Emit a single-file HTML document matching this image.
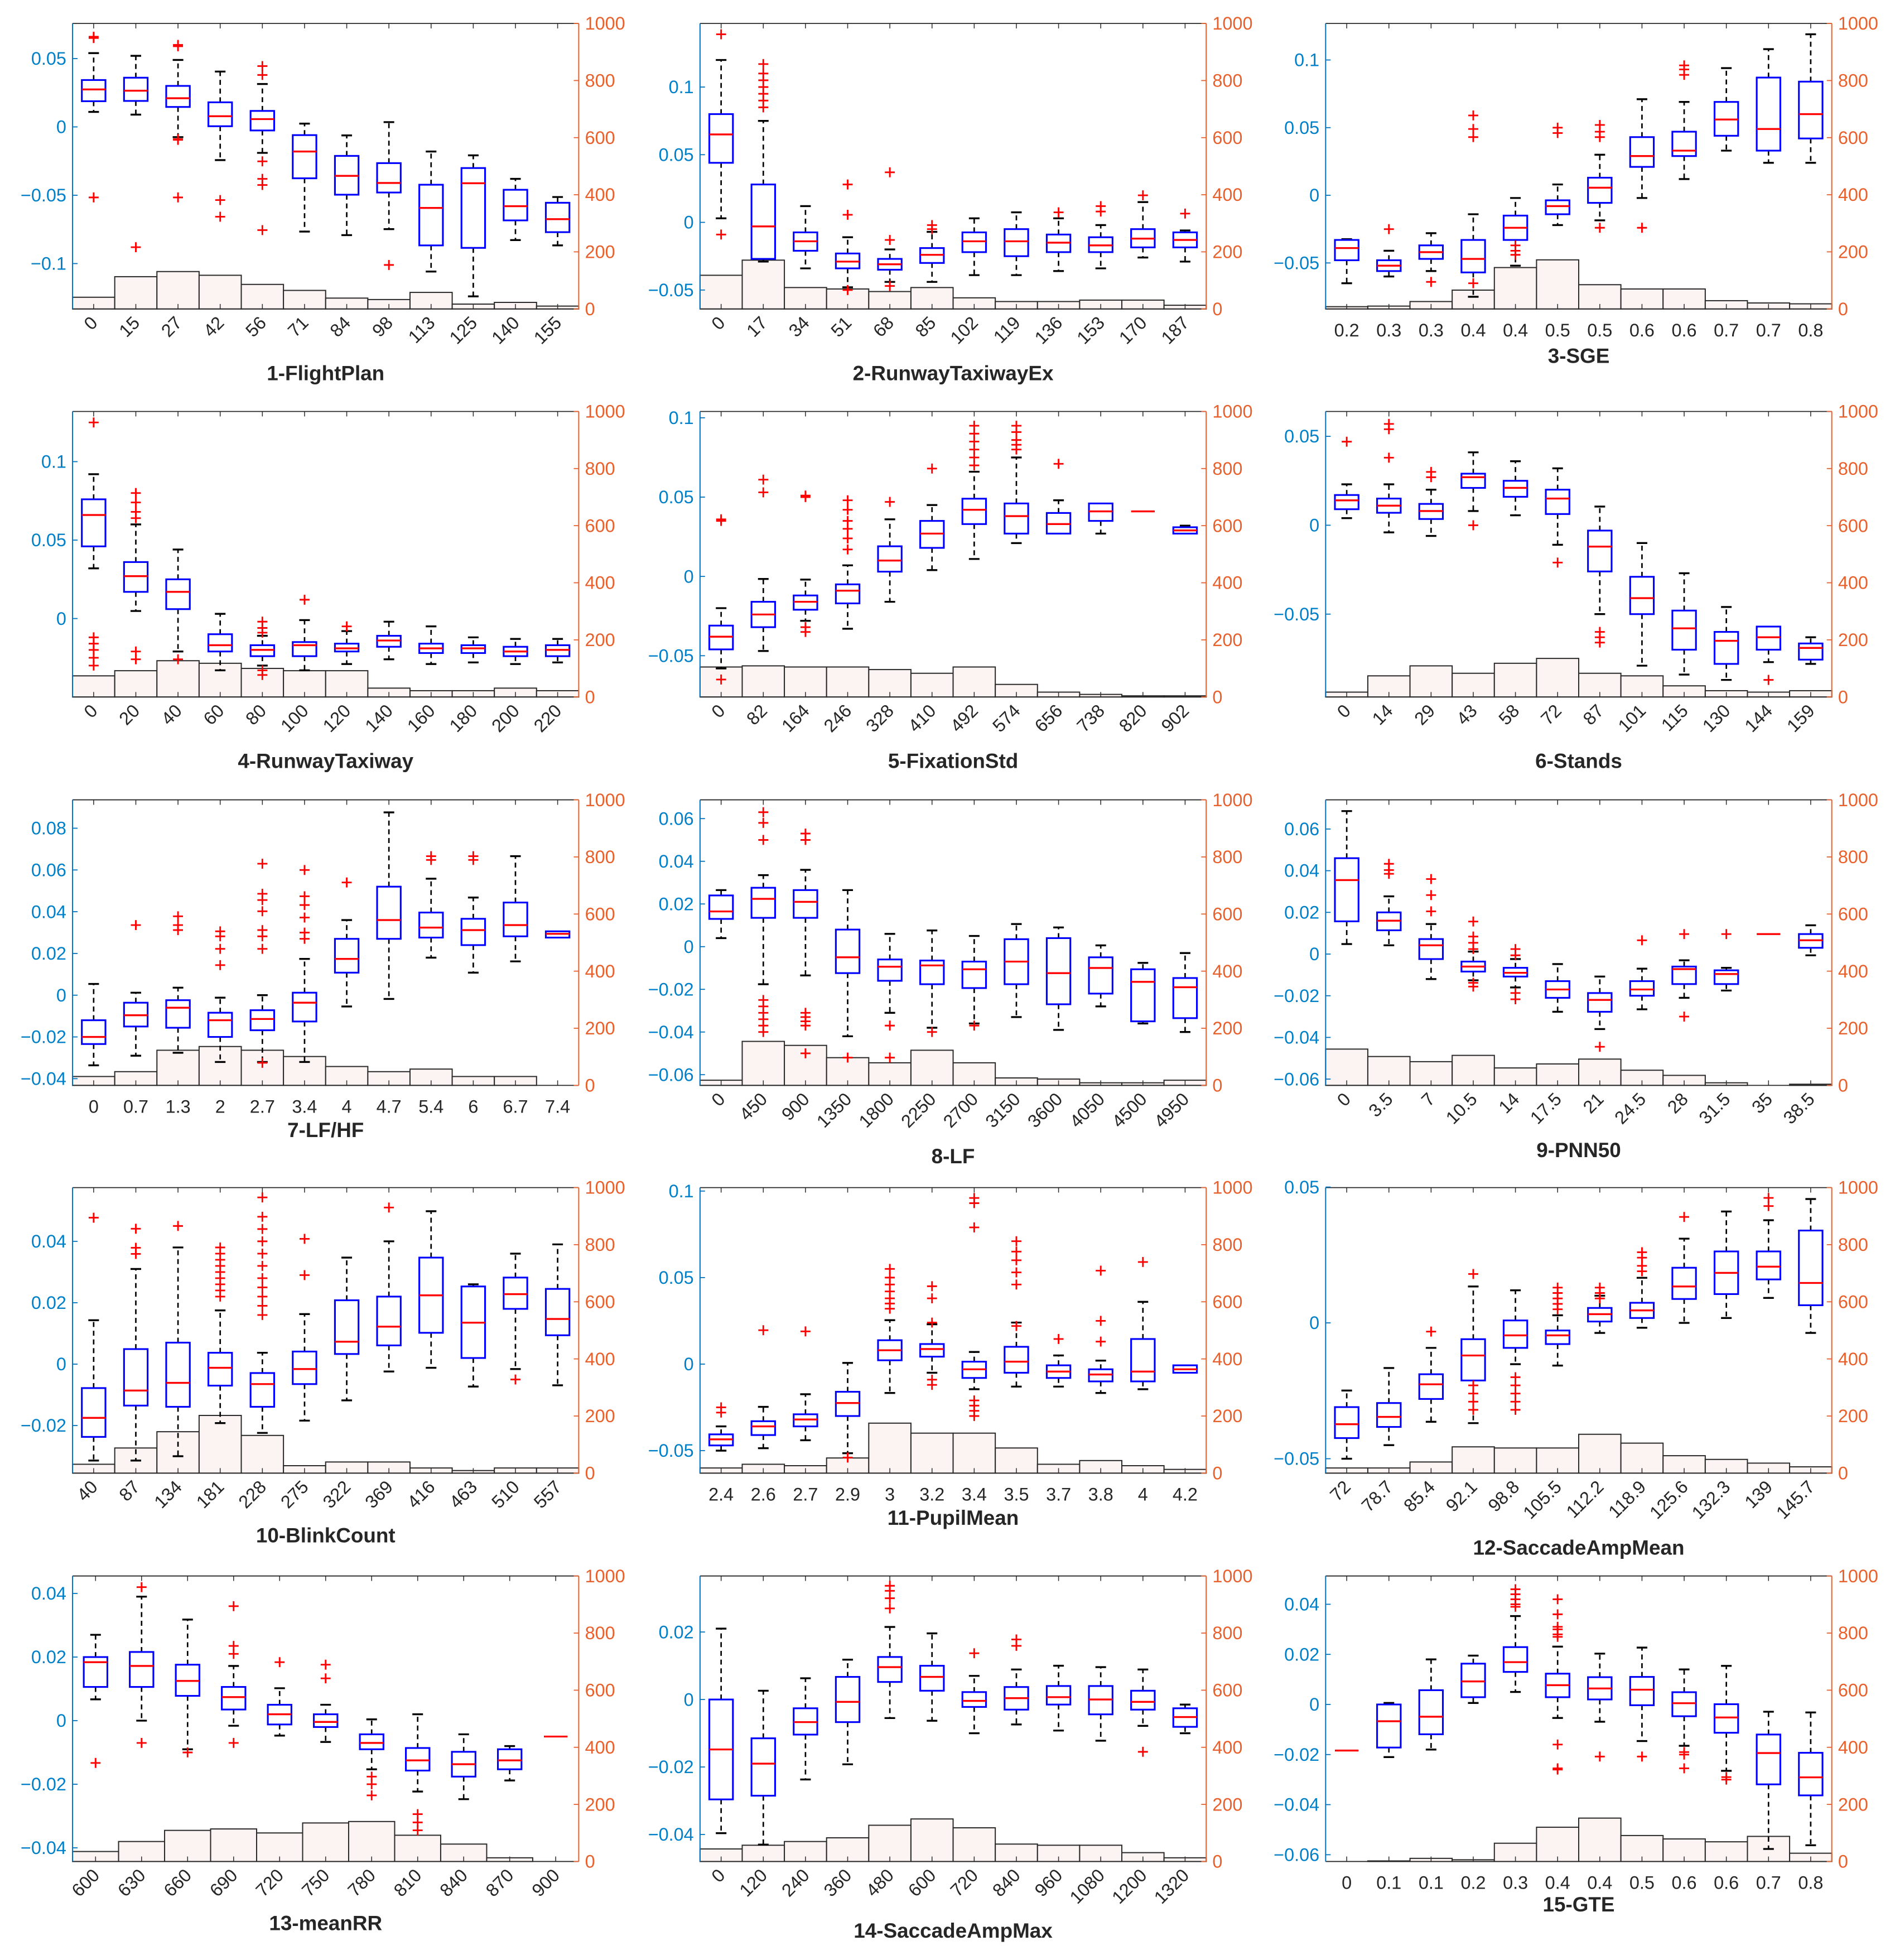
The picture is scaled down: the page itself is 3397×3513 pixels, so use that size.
<!DOCTYPE html>
<html><head><meta charset="utf-8"><title>Boxplots with histograms</title>
<style>
html,body{margin:0;padding:0;background:#fff;}
svg{display:block;font-family:"Liberation Sans",Arial,sans-serif;}
</style></head>
<body>
<svg id="fig" xmlns="http://www.w3.org/2000/svg" width="3397" height="3513" viewBox="0 0 1520 1572" preserveAspectRatio="none"></svg>
<script>
const TITLES=["1-FlightPlan","2-RunwayTaxiwayEx","3-SGE","4-RunwayTaxiway","5-FixationStd","6-Stands","7-LF/HF","8-LF","9-PNN50","10-BlinkCount","11-PupilMean","12-SaccadeAmpMean","13-meanRR","14-SaccadeAmpMax","15-GTE"];
const XLABELS=[
["0","15","27","42","56","71","84","98","113","125","140","155"],
["0","17","34","51","68","85","102","119","136","153","170","187"],
["0.2","0.3","0.3","0.4","0.4","0.5","0.5","0.6","0.6","0.7","0.7","0.8"],
["0","20","40","60","80","100","120","140","160","180","200","220"],
["0","82","164","246","328","410","492","574","656","738","820","902"],
["0","14","29","43","58","72","87","101","115","130","144","159"],
["0","0.7","1.3","2","2.7","3.4","4","4.7","5.4","6","6.7","7.4"],
["0","450","900","1350","1800","2250","2700","3150","3600","4050","4500","4950"],
["0","3.5","7","10.5","14","17.5","21","24.5","28","31.5","35","38.5"],
["40","87","134","181","228","275","322","369","416","463","510","557"],
["2.4","2.6","2.7","2.9","3","3.2","3.4","3.5","3.7","3.8","4","4.2"],
["72","78.7","85.4","92.1","98.8","105.5","112.2","118.9","125.6","132.3","139","145.7"],
["600","630","660","690","720","750","780","810","840","870","900"],
["0","120","240","360","480","600","720","840","960","1080","1200","1320"],
["0","0.1","0.1","0.2","0.3","0.4","0.4","0.5","0.6","0.6","0.7","0.8"]];
const ROTATED=[1,1,0,1,1,1,0,1,1,1,0,1,1,1,0];
const YLIM=[[-0.1332,0.0757],[-0.064,0.147],[-0.084,0.127],[-0.050,0.132],[-0.076,0.104],[-0.0966,0.064],[-0.0432,0.0936],[-0.065,0.0688],[-0.063,0.074],[-0.0355,0.0575],[-0.063,0.102],[-0.0553,0.0498],[-0.0443,0.0455],[-0.048,0.0366],[-0.0627,0.0513]];
const YTICKS=[[0.05,0,-0.05,-0.1],[0.1,0.05,0,-0.05],[0.1,0.05,0,-0.05],[0.1,0.05,0],[0.1,0.05,0,-0.05],[0.05,0,-0.05],[0.08,0.06,0.04,0.02,0,-0.02,-0.04],[0.06,0.04,0.02,0,-0.02,-0.04,-0.06],[0.06,0.04,0.02,0,-0.02,-0.04,-0.06],[0.04,0.02,0,-0.02],[0.1,0.05,0,-0.05],[0.05,0,-0.05],[0.04,0.02,0,-0.02,-0.04],[0.02,0,-0.02,-0.04],[0.04,0.02,0,-0.02,-0.04,-0.06]];
const RTICKS=[0,200,400,600,800,1000];
const LO=[
[0.011,0.009,-0.0075,-0.0243,-0.019,-0.0766,-0.0792,-0.0748,-0.1058,-0.124,-0.0828,-0.0867],
[0.003,-0.029,-0.034,-0.048,-0.044,-0.044,-0.039,-0.039,-0.036,-0.034,-0.026,-0.029],
[-0.065,-0.060,-0.056,-0.075,-0.052,-0.022,-0.0185,-0.002,0.012,0.033,0.024,0.024],
[0.032,0.0048,-0.021,-0.033,-0.030,-0.033,-0.029,-0.026,-0.029,-0.028,-0.029,-0.028],
[-0.058,-0.047,-0.028,-0.033,-0.016,0.004,0.011,0.021,0.027,0.027,0.041,0.027],
[0.004,-0.004,-0.006,0.008,0.0056,-0.011,-0.050,-0.079,-0.084,-0.087,-0.077,-0.078],
[-0.0336,-0.029,-0.0276,-0.032,-0.032,-0.032,-0.0054,-0.0018,0.018,0.0108,0.0162,0.0276],
[0.004,-0.0176,-0.0135,-0.042,-0.031,-0.038,-0.036,-0.033,-0.039,-0.028,-0.036,-0.040],
[0.0048,0.0042,-0.012,-0.0126,-0.016,-0.0277,-0.036,-0.0265,-0.021,-0.0175,0.0096,-0.0006],
[-0.0314,-0.0314,-0.030,-0.0192,-0.0224,-0.0184,-0.0118,-0.0024,-0.0012,-0.0073,-0.0016,-0.0069],
[-0.050,-0.0486,-0.044,-0.0515,-0.0167,-0.005,-0.0145,-0.013,-0.013,-0.0167,-0.0145,-0.005],
[-0.050,-0.045,-0.0364,-0.0369,-0.0152,-0.0157,-0.0037,-0.0018,0,0.0018,0.0092,-0.0037],
[0.0067,0,-0.009,-0.0016,-0.0047,-0.0067,-0.0153,-0.0223,-0.0247,-0.0188,-0.005],
[-0.0396,-0.043,-0.0237,-0.0192,-0.0055,-0.0063,-0.010,-0.0074,-0.0092,-0.0122,-0.0078,-0.010],
[-0.0184,-0.021,-0.018,0.0006,0.005,-0.0054,-0.0069,-0.0146,-0.0165,-0.0265,-0.0577,-0.0562]];
const Q1=[
[0.0188,0.019,0.0146,0.0005,-0.0026,-0.0376,-0.0496,-0.048,-0.0867,-0.0885,-0.0684,-0.077],
[0.044,-0.027,-0.021,-0.034,-0.035,-0.030,-0.022,-0.025,-0.022,-0.022,-0.0185,-0.0185],
[-0.048,-0.056,-0.047,-0.057,-0.033,-0.014,-0.0056,0.021,0.029,0.044,0.033,0.042],
[0.046,0.017,0.006,-0.021,-0.024,-0.024,-0.021,-0.018,-0.022,-0.022,-0.024,-0.024],
[-0.046,-0.032,-0.021,-0.017,0.003,0.018,0.033,0.027,0.027,0.035,0.041,0.027],
[0.009,0.007,0.0035,0.021,0.016,0.0063,-0.026,-0.050,-0.070,-0.078,-0.070,-0.0756],
[-0.0234,-0.015,-0.0156,-0.020,-0.0168,-0.0126,0.0108,0.027,0.0276,0.024,0.0282,0.0276],
[0.013,0.0135,0.0135,-0.0124,-0.016,-0.0176,-0.0194,-0.0176,-0.027,-0.022,-0.035,-0.0335],
[0.0157,0.0114,-0.0024,-0.0084,-0.0108,-0.021,-0.0277,-0.020,-0.0144,-0.0144,0.0096,0.003],
[-0.0237,-0.0135,-0.0139,-0.007,-0.0139,-0.0065,0.0033,0.0061,0.0102,0.002,0.018,0.0094],
[-0.047,-0.041,-0.036,-0.030,0.0022,0.0043,-0.008,-0.005,-0.008,-0.010,-0.010,-0.005],
[-0.0424,-0.0383,-0.028,-0.0212,-0.0092,-0.0078,0.0005,0.0018,0.0088,0.0106,0.016,0.0065],
[0.0106,0.0106,0.0078,0.0035,-0.0012,-0.002,-0.009,-0.0157,-0.0176,-0.0153,-0.005],
[-0.0296,-0.0285,-0.0104,-0.0067,0.0052,0.0026,-0.0022,-0.003,-0.0015,-0.0044,-0.003,-0.0081],
[-0.0184,-0.0172,-0.0119,0.0029,0.013,0.0029,0.002,-0.0003,-0.0047,-0.0113,-0.0319,-0.0363]];
const MED=[
[0.0274,0.0265,0.021,0.0078,0.0057,-0.018,-0.0358,-0.041,-0.0593,-0.0412,-0.058,-0.0675],
[0.065,-0.003,-0.014,-0.029,-0.031,-0.024,-0.014,-0.014,-0.015,-0.017,-0.012,-0.013],
[-0.039,-0.052,-0.042,-0.047,-0.024,-0.008,0.0056,0.029,0.033,0.056,0.049,0.060],
[0.066,0.027,0.017,-0.017,-0.020,-0.017,-0.019,-0.014,-0.019,-0.019,-0.021,-0.020],
[-0.038,-0.024,-0.016,-0.009,0.010,0.027,0.042,0.038,0.033,0.041,0.041,0.029],
[0.014,0.011,0.008,0.027,0.021,0.015,-0.012,-0.041,-0.058,-0.065,-0.063,-0.069],
[-0.020,-0.0096,-0.006,-0.012,-0.0114,-0.0036,0.0174,0.036,0.0324,0.0312,0.0336,0.0294],
[0.0165,0.0224,0.021,-0.005,-0.0094,-0.0088,-0.0106,-0.007,-0.0124,-0.010,-0.0165,-0.019],
[0.0355,0.016,0.0042,-0.006,-0.009,-0.017,-0.022,-0.017,-0.0072,-0.0096,0.0096,0.0066],
[-0.0175,-0.0086,-0.0061,-0.0012,-0.0065,-0.0016,0.0073,0.0122,0.0224,0.0135,0.0228,0.0147],
[-0.0435,-0.036,-0.032,-0.0225,0.008,0.0087,-0.003,0.0014,-0.0043,-0.006,-0.0043,-0.003],
[-0.0373,-0.0346,-0.0226,-0.012,-0.0046,-0.0046,0.0032,0.0046,0.0134,0.0184,0.0207,0.0147],
[0.0184,0.0172,0.0125,0.0074,0.002,-0.0004,-0.007,-0.0125,-0.0137,-0.0125,-0.005],
[-0.0148,-0.019,-0.0067,-0.0007,0.0096,0.0067,-0.0004,0.0004,0.0007,0,-0.0007,-0.0052],
[-0.0184,-0.0067,-0.0049,0.0092,0.0169,0.0077,0.0064,0.0059,0.0005,-0.0052,-0.0194,-0.0291]];
const Q3=[
[0.0343,0.036,0.030,0.018,0.0117,-0.006,-0.0212,-0.0265,-0.0423,-0.0301,-0.046,-0.0555],
[0.080,0.028,-0.0074,-0.023,-0.027,-0.019,-0.0074,-0.005,-0.009,-0.011,-0.005,-0.0074],
[-0.033,-0.048,-0.037,-0.033,-0.015,-0.0037,0.013,0.043,0.047,0.069,0.087,0.084],
[0.076,0.036,0.025,-0.010,-0.017,-0.015,-0.016,-0.011,-0.016,-0.017,-0.018,-0.017],
[-0.031,-0.016,-0.012,-0.005,0.019,0.035,0.049,0.046,0.040,0.046,0.041,0.031],
[0.017,0.015,0.012,0.029,0.025,0.020,-0.003,-0.029,-0.048,-0.060,-0.057,-0.0665],
[-0.012,-0.0036,-0.0024,-0.0084,-0.0072,0.0012,0.027,0.052,0.0396,0.0366,0.0444,0.0306],
[0.024,0.0276,0.0265,0.008,-0.006,-0.0065,-0.007,0.0035,0.004,-0.005,-0.0106,-0.0147],
[0.046,0.020,0.0072,-0.0036,-0.0066,-0.013,-0.0187,-0.013,-0.006,-0.0078,0.0096,0.0096],
[-0.0078,0.0049,0.007,0.0037,-0.0029,0.0041,0.0208,0.022,0.0347,0.0253,0.0282,0.0245],
[-0.0406,-0.033,-0.029,-0.016,0.0138,0.0116,0.0014,0.010,-0.0007,-0.003,0.0145,-0.0007],
[-0.031,-0.0295,-0.0189,-0.006,0.0009,-0.0028,0.0055,0.0074,0.0203,0.0263,0.0263,0.034],
[0.020,0.0216,0.0176,0.0106,0.005,0.002,-0.0043,-0.0086,-0.0098,-0.009,-0.005],
[0,-0.0115,-0.0026,0.0067,0.0126,0.010,0.0022,0.0037,0.004,0.004,0.0026,-0.0026],
[-0.0184,0,0.0057,0.0163,0.0229,0.0123,0.0109,0.011,0.0049,0.0001,-0.012,-0.0193]];
const HI=[
[0.054,0.052,0.049,0.0405,0.0314,0.0024,-0.0062,0.0035,-0.018,-0.0208,-0.038,-0.0513],
[0.120,0.075,0.012,-0.011,-0.02,-0.007,0.003,0.0074,0.003,-0.002,0.015,-0.006],
[-0.0324,-0.041,-0.028,-0.014,-0.002,0.008,0.030,0.071,0.069,0.094,0.108,0.119],
[0.092,0.060,0.044,0.003,-0.011,-0.001,-0.008,-0.002,-0.005,-0.012,-0.013,-0.013],
[-0.020,-0.0016,-0.002,0.007,0.036,0.045,0.066,0.075,0.048,0.046,0.041,0.032],
[0.023,0.023,0.020,0.041,0.036,0.032,0.0105,-0.010,-0.027,-0.046,-0.057,-0.063],
[0.0054,0.0012,0.0036,-0.0012,0,0.0174,0.036,0.0876,0.0558,0.0468,0.0666,0.0306],
[0.0265,0.0335,0.036,0.0265,0.006,0.0076,0.005,0.0106,0.009,0.0006,-0.0076,-0.003],
[0.0686,0.0277,0.0144,0.0012,-0.0024,-0.0048,-0.0108,-0.007,-0.003,-0.0066,0.0096,0.0138],
[0.0143,0.031,0.038,0.0175,0.0037,0.0163,0.0347,0.040,0.0498,0.026,0.036,0.039],
[-0.036,-0.0247,-0.0174,0.0007,0.0254,0.023,0.007,0.024,0.005,0.002,0.036,-0.0007],
[-0.0249,-0.0166,-0.0092,0.0134,0.012,0.0028,0.010,0.0166,0.031,0.041,0.0378,0.0456],
[0.027,0.039,0.0318,0.0172,0.0102,0.005,0.0004,0.002,-0.0043,-0.008,-0.005],
[0.021,0.0026,0.0063,0.0118,0.0215,0.0196,0.007,0.0089,0.010,0.0096,0.0089,-0.0015],
[-0.0184,0.0006,0.018,0.0195,0.0353,0.0231,0.0203,0.0227,0.014,0.0154,-0.0029,-0.0032]];
const OUT=[
[[0.066,0.065,-0.0516],[-0.088],[0.060,0.059,-0.009,-0.0095,-0.0516],[-0.0535,-0.0657],[0.0445,0.038,-0.0252,-0.038,-0.0425,-0.0755],[],[],[-0.101],[],[],[],[]],
[[0.139,-0.009],[0.117,0.11,0.105,0.10,0.095,0.09,0.085],[],[0.028,0.0056,-0.05],[0.037,-0.013,-0.047],[-0.002,-0.005],[],[],[0.0074],[0.012,0.008],[0.020],[0.0065]],
[[],[-0.025],[-0.064],[0.049,0.059,0.043,-0.065],[-0.037,-0.041,-0.044],[0.05,0.046],[0.052,0.047,0.043,-0.024],[-0.024],[0.096,0.093,0.089],[],[],[]],
[[0.125,-0.012,-0.016,-0.02,-0.025,-0.03],[0.080,0.074,0.068,0.064,-0.021,-0.026],[-0.026],[],[-0.002,-0.006,-0.009,-0.033,-0.036],[0.012],[-0.005],[],[],[],[],[]],
[[0.036,0.035,-0.065],[0.061,0.053],[0.051,0.050,-0.032,-0.035],[0.048,0.042,0.035,0.030,0.024,0.017],[0.047],[0.068],[0.095,0.09,0.085,0.08,0.075,0.07],[0.095,0.091,0.086,0.083,0.080],[0.071],[],[],[]],
[[0.047],[0.057,0.054,0.038],[0.030,0.027],[0],[],[-0.021],[-0.060,-0.063,-0.066],[],[],[],[-0.087],[]],
[[],[0.0336],[0.0378,0.0336,0.0312],[0.0306,0.0282,0.0222,0.0144],[0.063,0.0486,0.0456,0.0402,0.0312,0.0282,0.0222,-0.0324],[0.060,0.0474,0.0432,0.0372,0.030,0.027],[0.054],[],[0.0666,0.0648],[0.0666,0.0648],[],[]],
[[],[0.063,0.058,0.050,-0.025,-0.028,-0.031,-0.034,-0.037,-0.040],[0.053,0.05,-0.031,-0.033,-0.035,-0.037,-0.05],[-0.052],[-0.037,-0.052],[-0.040],[-0.037],[],[],[],[],[]],
[[],[0.0433,0.0403,0.0385],[0.036,0.0283,0.0205],[0.0156,0.0084,0.0054,0.0024,-0.0138,-0.0156],[0.0024,-0.0006,-0.0187,-0.0217],[],[-0.0445],[0.0066],[0.0096,-0.030],[0.0096],[],[]],
[[0.0477],[0.0441,0.0379,0.0359],[0.045],[0.038,0.036,0.034,0.032,0.030,0.028,0.026,0.024,0.022],[0.0543,0.048,0.044,0.040,0.036,0.032,0.028,0.025,0.022,0.019,0.016],[0.0408,0.029],[],[0.051],[],[],[-0.005],[]],
[[-0.025,-0.028],[0.0196],[0.0189],[-0.054],[0.055,0.050,0.046,0.042,0.038,0.035,0.032],[0.045,0.038,0.024,-0.009,-0.012],[0.096,0.093,0.079,-0.021,-0.024,-0.027,-0.030],[0.071,0.065,0.060,0.053,0.046,0.022],[0.0145],[0.054,0.025,0.013],[0.059],[]],
[[],[],[-0.0032],[0.018,-0.023,-0.026,-0.029,-0.032],[-0.020,-0.023,-0.026,-0.029,-0.032],[0.013,0.011,0.009,0.007,0.005],[0.013,0.011,0.009],[0.026,0.024,0.021,0.019],[0.039],[],[0.046,0.043],[]],
[[-0.0133],[0.042,-0.007],[-0.010],[0.036,0.0235,0.021,-0.007],[0.0184],[0.0176,0.0133],[-0.0176,-0.020,-0.0235],[-0.0294,-0.032,-0.0345],[],[],[]],
[[],[],[],[],[0.0337,0.0322,0.030,0.027],[],[0.0137],[0.0178,0.0159],[],[],[-0.0155],[]],
[[],[],[],[],[0.046,0.044,0.042,0.040,0.039],[0.042,0.036,0.031,0.030,0.028,0.027,-0.016,-0.0255,-0.026],[-0.0208],[-0.0208],[-0.019,-0.020,-0.0255],[-0.029,-0.030],[],[]]];
const HIST=[
[41,113,131,118,86,65,38,33,58,17,23,10],
[118,171,75,70,61,75,39,26,26,31,31,13],
[8,10,26,66,145,172,85,70,70,29,21,18],
[74,92,127,118,100,92,92,31,22,22,31,22],
[105,109,105,105,96,83,105,44,17,9,4,4],
[17,74,109,83,118,135,83,74,39,22,17,22],
[31,48,123,136,123,101,66,48,57,31,31,0],
[18,154,140,97,79,123,79,26,22,9,9,18],
[127,101,83,105,61,75,92,53,35,9,0,4],
[31,88,145,202,132,26,39,39,18,9,18,18],
[18,31,26,53,175,140,140,88,31,44,26,13],
[18,18,39,92,88,88,136,105,61,48,35,22],
[35,70,109,114,100,135,140,92,61,13,0],
[44,57,70,83,127,149,118,61,57,57,31,13],
[0,2,11,6,64,120,152,91,79,69,88,29]];

// layout (not data)
const COLX=[58.2,561.5,1063.3], W=406, ROWY=[18.8,330,641.5,952.5,1264], H=229;
const TITLE_Y=[305,305,291,616,616,616,912,933,928,1237,1223,1247,1548,1554,1533];
const NS="http://www.w3.org/2000/svg";
const svg=document.getElementById('fig');
function el(tag,attrs,parent){const e=document.createElementNS(NS,tag);for(const k in attrs)e.setAttribute(k,attrs[k]);parent.appendChild(e);return e;}
const BLUE="#0072BD", ORANGE="#E8602C";
const bg=el('rect',{x:0,y:0,width:1520,height:1572,fill:'#fff'},svg);



for(let p=0;p<15;p++){
  const col=p%3,row=Math.floor(p/3);
  const x0=COLX[col],y0=ROWY[row],x1=x0+W,y1=y0+H;
  const n=XLABELS[p].length, sp=W/n;
  const yl=YLIM[p];
  const yS=v=>y1-(v-yl[0])/(yl[1]-yl[0])*H;
  const hS=c=>y1-c/1000*H;
  const xC=i=>x0+(i+0.5)*sp;
  const g=el('g',{},svg);
  
  
  const hg=el('g',{},g);
  
  
  HIST[p].forEach((c,i)=>{
    if(c<=0)return;
    const r=el('rect',{x:x0+i*sp,y:hS(c),width:sp,height:y1-hS(c),fill:'#FCF4F2',stroke:'#2a2a2a','stroke-width':0.9},hg);
    
    
  });
  for(let i=0;i<n;i++){
    el('line',{x1:xC(i),x2:xC(i),y1:y1,y2:y1-4,stroke:'#333','stroke-width':0.7},g);
    el('line',{x1:xC(i),x2:xC(i),y1:y0,y2:y0+4,stroke:'#333','stroke-width':0.7},g);
  }
  const bw=33.8*0.56, cw=bw*0.45;
  for(let i=0;i<n;i++){
    if(MED[p][i]===null||MED[p][i]===undefined)continue;
    const bx=el('g',{},g);
    
    
    const cx=xC(i), lo=LO[p][i], q1=Q1[p][i], md=MED[p][i], q3=Q3[p][i], hi=HI[p][i];
    if(hi>q3){
      el('line',{x1:cx,x2:cx,y1:yS(q3),y2:yS(hi),stroke:'#000','stroke-width':1.2,'stroke-dasharray':'4,3'},bx);
      el('line',{x1:cx-cw/2,x2:cx+cw/2,y1:yS(hi),y2:yS(hi),stroke:'#000','stroke-width':1.5},bx);
    }
    if(lo<q1){
      el('line',{x1:cx,x2:cx,y1:yS(q1),y2:yS(lo),stroke:'#000','stroke-width':1.2,'stroke-dasharray':'4,3'},bx);
      el('line',{x1:cx-cw/2,x2:cx+cw/2,y1:yS(lo),y2:yS(lo),stroke:'#000','stroke-width':1.5},bx);
    }
    if(q3>q1){
      el('rect',{x:cx-bw/2,y:yS(q3),width:bw,height:yS(q1)-yS(q3),fill:'none',stroke:'#0000FF','stroke-width':1.4},bx);
    }
    el('line',{x1:cx-bw/2,x2:cx+bw/2,y1:yS(md),y2:yS(md),stroke:'#FF0000','stroke-width':1.5},bx);
    OUT[p][i].forEach(v=>{
      const yy=yS(v);
      const o=el('path',{d:`M${cx-4},${yy}H${cx+4}M${cx},${yy-4}V${yy+4}`,stroke:'#FF0000','stroke-width':1.3,fill:'none'},bx);
      
      
    });
  }
  el('line',{x1:x0,x2:x1,y1:y0,y2:y0,stroke:'#262626','stroke-width':0.8},g);
  el('line',{x1:x0,x2:x1,y1:y1,y2:y1,stroke:'#262626','stroke-width':0.8},g);
  const la=el('line',{x1:x0,x2:x0,y1:y0,y2:y1,stroke:BLUE,'stroke-width':0.9},g);
  
  
  const ra=el('line',{x1:x1,x2:x1,y1:y0,y2:y1,stroke:ORANGE,'stroke-width':0.9},g);
  
  
  YTICKS[p].forEach(v=>{
    const yy=yS(v);
    el('line',{x1:x0,x2:x0+4,y1:yy,y2:yy,stroke:BLUE,'stroke-width':0.8},g);
    const t=el('text',{x:x0-5,y:yy+5,'text-anchor':'end','font-size':14.5,fill:'#0080C8'},g);
    t.textContent=(v<0?'\u2212':'')+String(Math.abs(v));
    
    
  });
  RTICKS.forEach(v=>{
    const yy=hS(v);
    el('line',{x1:x1,x2:x1-4,y1:yy,y2:yy,stroke:ORANGE,'stroke-width':0.8},g);
    const t=el('text',{x:x1+5,y:yy+5,'text-anchor':'start','font-size':14.5,fill:ORANGE},g);
    t.textContent=String(v);
    
    
  });
  XLABELS[p].forEach((s,i)=>{
    let t;
    if(ROTATED[p]){
      const tx=xC(i)+4, ty=y1+12;
      t=el('text',{x:tx,y:ty,'text-anchor':'end','font-size':14.5,fill:'#262626',transform:`rotate(-45 ${tx} ${ty})`},g);
    } else {
      t=el('text',{x:xC(i),y:y1+22,'text-anchor':'middle','font-size':14.5,fill:'#262626'},g);
    }
    t.textContent=s;
    
    
  });
  const tt=el('text',{x:x0+W/2,y:TITLE_Y[p],'text-anchor':'middle','font-size':16.5,'font-weight':'bold',fill:'#262626'},g);
  tt.textContent=TITLES[p];
  
  
}
</script>
</body></html>
